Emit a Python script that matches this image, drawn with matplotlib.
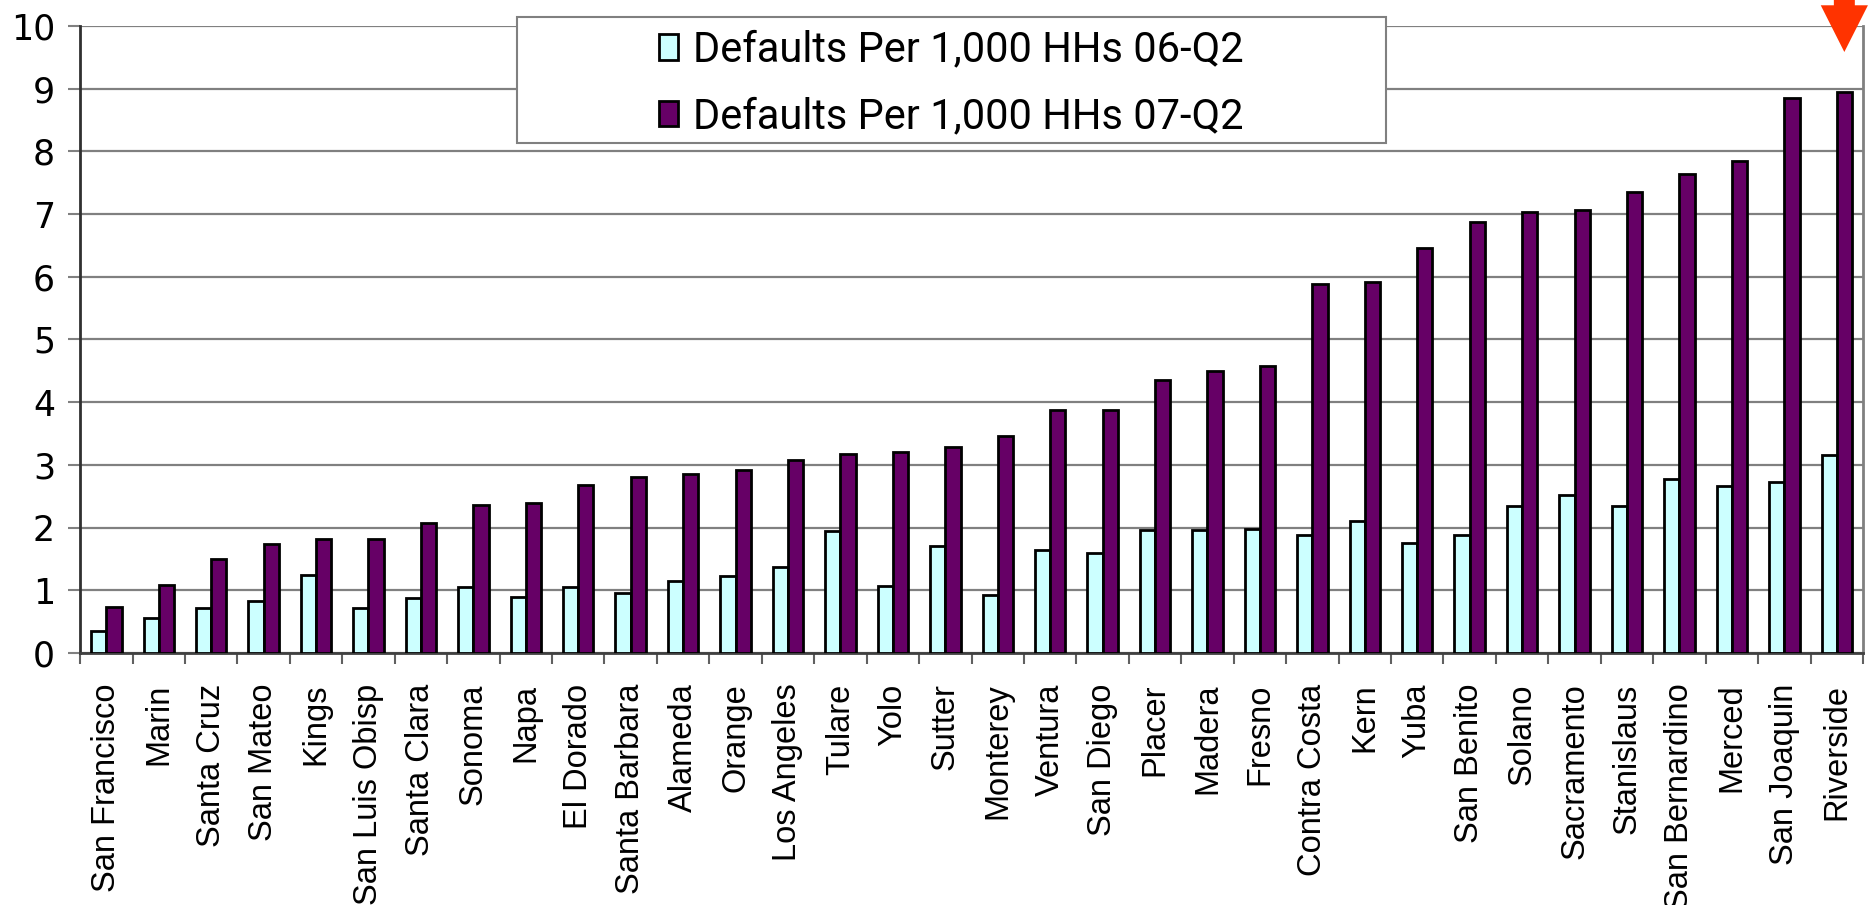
import numpy as np
import matplotlib.pyplot as plt
from matplotlib.patches import Polygon, Rectangle

counties = ['San Francisco', 'Marin', 'Santa Cruz', 'San Mateo', 'Kings', 'San Luis Obisp',
            'Santa Clara', 'Sonoma', 'Napa', 'El Dorado', 'Santa Barbara', 'Alameda',
            'Orange', 'Los Angeles', 'Tulare', 'Yolo', 'Sutter', 'Monterey', 'Ventura',
            'San Diego', 'Placer', 'Madera', 'Fresno', 'Contra Costa', 'Kern', 'Yuba',
            'San Benito', 'Solano', 'Sacramento', 'Stanislaus', 'San Bernardino', 'Merced',
            'San Joaquin', 'Riverside']

# defaults per 1,000 households, Q2 2006
q2_06 = [0.35, 0.55, 0.71, 0.83, 1.24, 0.71, 0.87, 1.05, 0.89, 1.05, 0.96, 1.14,
         1.23, 1.37, 1.94, 1.07, 1.71, 0.92, 1.65, 1.59, 1.96, 1.96, 1.97, 1.88,
         2.10, 1.75, 1.88, 2.35, 2.52, 2.35, 2.77, 2.67, 2.73, 3.15]

# defaults per 1,000 households, Q2 2007
q2_07 = [0.74, 1.08, 1.50, 1.73, 1.82, 1.82, 2.08, 2.36, 2.39, 2.68, 2.80, 2.85,
         2.92, 3.08, 3.18, 3.21, 3.28, 3.46, 3.87, 3.87, 4.36, 4.49, 4.58, 5.89,
         5.92, 6.46, 6.88, 7.03, 7.07, 7.35, 7.64, 7.84, 8.85, 8.95]

yticks = list(range(0, 11))

label_06 = 'Defaults Per 1,000 HHs 06-Q2'
label_07 = 'Defaults Per 1,000 HHs 07-Q2'

plt.rcParams['font.family'] = ['Liberation Sans', 'DejaVu Sans']

fig = plt.figure(figsize=(18.71, 9.05), dpi=100)
ax = fig.add_axes([0.0428, 0.2785, 0.9529, 0.6928])

x = np.arange(len(counties))
w = 0.29
b1 = ax.bar(x - w / 2, q2_06, w, color='#CCFFFF', edgecolor='black', linewidth=2,
            label=label_06, zorder=3)
b2 = ax.bar(x + w / 2, q2_07, w, color='#660066', edgecolor='black', linewidth=2,
            label=label_07, zorder=3)

ax.set_xlim(-0.5, len(counties) - 0.5)
ax.set_ylim(0, 10)
ax.set_yticks(yticks)
ax.set_yticklabels([str(t) for t in yticks], fontsize=25, family='DejaVu Sans')
ax.tick_params(axis='y', length=9, width=1.5, color='#808080', pad=9)
ax.yaxis.grid(True, color='#808080', linewidth=1.6, zorder=0)
ax.set_axisbelow(True)

# labels at the bar groups, tick marks on the group boundaries
ax.set_xticks(x)
ax.set_xticklabels(counties, rotation=90, fontsize=23.5)
ax.tick_params(axis='x', which='major', length=0, pad=22)
ax.set_xticks(np.arange(-0.5, len(counties)), minor=True)
ax.tick_params(axis='x', which='minor', length=8, width=1.5, color='#606060')

ax.spines['left'].set_color('#303030')
ax.spines['left'].set_linewidth(2)
ax.spines['bottom'].set_color('#404040')
ax.spines['bottom'].set_linewidth(2)
ax.spines['right'].set_color('#808080')
ax.spines['right'].set_linewidth(2)
ax.spines['top'].set_visible(False)

# legend box sitting over the top of the plot
frame = Rectangle((0.245, 0.813), 0.4875, 0.201, transform=ax.transAxes,
                  facecolor='white', edgecolor='#808080', linewidth=1.5,
                  clip_on=False, zorder=5)
ax.add_patch(frame)
leg = ax.legend(handles=[b1, b2], loc='center', bbox_to_anchor=(0.4887, 0.908),
                frameon=False, prop={'family': 'Roboto', 'size': 30},
                handlelength=0.45, handleheight=0.55, handletextpad=0.35,
                labelspacing=0.62, borderpad=0)
leg.set_zorder(6)

# red pointer above Riverside
xc = len(counties) - 1 + w / 2
arrow = Polygon([[xc - 0.2, 10.5], [xc + 0.2, 10.5], [xc + 0.2, 10.33],
                 [xc + 0.45, 10.33], [xc, 9.585], [xc - 0.45, 10.33],
                 [xc - 0.2, 10.33]], closed=True, facecolor='#FF3300',
                edgecolor='none', clip_on=False, zorder=7)
ax.add_patch(arrow)

plt.savefig('out.png', dpi=100)
